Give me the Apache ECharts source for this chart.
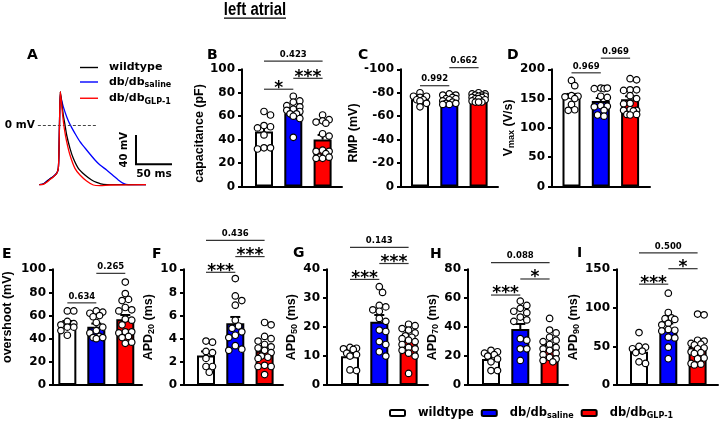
<!DOCTYPE html>
<html><head><meta charset="utf-8">
<script src="https://cdn.jsdelivr.net/npm/echarts@6/dist/echarts.min.js"></script>
<style>html,body{margin:0;padding:0;background:#fff}#c{width:719px;height:423px}</style>
</head><body><div id="c"></div>
<script>
// ---------- groups ----------
const groups = ['wildtype', 'db/db saline', 'db/db GLP-1'];
const groupColors = ['#ffffff', '#0000ff', '#ff0000'];

// ---------- Panel A: action potential traces [ms, mV] ----------
const wtTrace = [[0,-81.7],[5.6,-80.8],[10.2,-77.6],[14.8,-74.0],[19.4,-70.8],[24.1,-66.2],[26.4,-59.4],[27.3,-36.5],[28.2,9.1],[29.2,45.7],
  [31.0,32.0],[33.3,13.7],[35.7,0],[38.0,-13.7],[42.6,-32.0],[47.2,-45.7],[54.2,-59.4],[63.4,-68.5],[72.7,-75.3],[79.6,-78.5],[88.9,-81.3],[102.8,-81.7],[148.2,-81.7]];
const salTrace = [[0,-81.7],[5.6,-80.5],[10.2,-77.0],[14.8,-73.5],[19.4,-70.5],[24.1,-66.0],[26.4,-59.4],[27.3,-36.5],[28.2,9.1],[29.2,42.0],
  [31.0,34.2],[33.3,25.1],[38.0,11.4],[42.6,0.9],[49.5,-11.4],[56.5,-22.8],[65.7,-34.2],[77.3,-47.9],[84.3,-54.8],[93.5,-61.6],[102.8,-69.4],[109.7,-75.3],[116.7,-79.9],[123.6,-81.7],[148.2,-81.7]];
const glpTrace = [[0,-81.7],[5.6,-81.2],[10.2,-78.5],[14.8,-74.8],[19.4,-71.2],[24.1,-66.5],[26.4,-59.4],[27.3,-36.5],[28.2,9.1],[29.2,45.7],
  [30.6,32.0],[32.4,13.7],[34.7,-4.6],[38.0,-22.8],[42.6,-41.1],[49.5,-59.4],[56.5,-68.5],[65.7,-76.7],[75.0,-82.2],[84.3,-83.1],[98.2,-82.2],[148.2,-81.7]];
const zeroLineMs = [-2, 80];            // dashed 0 mV reference, ms range
const scaleBar = [134.3, -53.8, 50, 40]; // corner t, corner mV, 50 ms, 40 mV

// ---------- B: capacitance (pF) ----------
const capMean = [47, 62.5, 40];
const capSem = [4, 2.5, 4];
const capWt = [64, 61, 52, 51, 50, 44, 33, 33, 32];
const capSal = [77, 73, 72, 69, 68, 66, 65, 64, 62, 62, 60, 58, 42];
const capGlp = [61, 57, 56, 55, 54, 45, 43, 31, 30, 30, 28, 25, 24, 24, 25];
const capSig = [[0, 1, 83, '*'], [1, 2, 92.3, '***'], [0, 2, 107, '0.423']];

// ---------- C: RMP (mV) ----------
const rmpMean = [-74.5, -74, -76];
const rmpSem = [1.2, 1, 0.7];
const rmpWt = [-80, -77, -77, -76, -74, -74, -73, -71, -68];
const rmpSal = [-79, -78, -78, -76, -75, -75, -74, -73, -72, -71, -71, -70, -70];
const rmpGlp = [-80, -79, -79, -78, -78, -77, -77, -76, -76, -75, -75, -74, -73, -72, -72, -72];
const rmpSig = [[0, 1, -86, '0.992'], [1, 2, -101.4, '0.662']];

// ---------- D: Vmax (V/s) ----------
const vmaxMean = [153, 146, 149];
const vmaxSem = [5, 5, 5];
const vmaxWt = [181, 172, 155, 154, 153, 150, 140, 131, 130];
const vmaxSal = [168, 167, 167, 168, 154, 152, 138, 137, 136, 130, 122, 120];
const vmaxGlp = [184, 182, 165, 165, 164, 155, 150, 142, 141, 131, 130, 130, 129, 123, 123, 122];
const vmaxSig = [[0, 1, 194, '0.969'], [1, 2, 219, '0.969']];

// ---------- E: overshoot (mV) ----------
const osMean = [53, 50.4, 56.8];
const osSem = [2.3, 2.7, 3.7];
const osWt = [64, 64, 55, 53, 52, 50, 50, 47, 43];
const osSal = [64, 63, 62, 60, 59, 54, 50, 47, 45, 42, 41, 41, 40];
const osGlp = [89, 79, 74, 73, 67, 65, 64, 57, 56, 52, 46, 46, 45, 42, 41, 37, 36];
const osSig = [[0, 1, 71, '0.634'], [1, 2, 96.5, '0.265']];

// ---------- F: APD20 (ms) ----------
const apd20Mean = [2.55, 5.33, 2.95];
const apd20Sem = [0.35, 0.55, 0.35];
const apd20Wt = [3.8, 3.7, 2.9, 2.8, 2.3, 1.6, 1.6, 1.1];
const apd20Sal = [9.2, 7.7, 7.3, 6.9, 5.6, 5.1, 4.9, 4.6, 4.3, 4.1, 3.4, 3.1, 3.0];
const apd20Glp = [5.4, 5.2, 4.2, 4.0, 3.8, 3.5, 3.3, 3.2, 3.0, 2.8, 2.5, 2.4, 2.3, 1.7, 1.6, 1.6, 0.9];
const apd20Sig = [[0, 1, 9.74, '***'], [1, 2, 11.1, '***'], [0, 2, 12.5, '0.436']];

// ---------- G: APD50 (ms) ----------
const apd50Mean = [9.9, 21.9, 15.4];
const apd50Sem = [1.0, 2.3, 1.2];
const apd50Wt = [13, 12.7, 12.5, 12.3, 11, 10.5, 10, 5, 5.2];
const apd50Sal = [34, 32, 27.5, 27, 26, 25.5, 23, 22, 19, 18.5, 15, 14, 11.5, 10];
const apd50Glp = [21, 20.5, 19.5, 19, 18, 17, 16.5, 16, 15.5, 15, 14, 13, 12.5, 12, 11, 10, 4];
const apd50Sig = [[0, 1, 36.5, '***'], [1, 2, 42, '***'], [0, 2, 47.6, '0.143']];

// ---------- H: APD70 (ms) ----------
const apd70Mean = [18, 38.7, 25.5];
const apd70Sem = [1.7, 3.5, 2.0];
const apd70Wt = [24, 23, 22, 21, 20, 18, 16, 10, 10];
const apd70Sal = [58, 55, 53, 51, 50, 47, 45, 44, 32, 31, 25, 25, 17];
const apd70Glp = [46, 38, 36, 33, 31, 30, 28, 26, 25, 24, 22, 21, 19, 18, 17, 16];
const apd70Sig = [[0, 1, 62.2, '***'], [1, 2, 73.3, '*'], [0, 2, 84.6, '0.088']];

// ---------- I: APD90 (ms) ----------
const apd90Mean = [43, 73.7, 50];
const apd90Sem = [5, 6, 4];
const apd90Wt = [68, 50, 49, 47, 44, 42, 30, 28];
const apd90Sal = [119, 94, 87, 86, 85, 80, 78, 72, 71, 70, 62, 61, 49, 34];
const apd90Glp = [92, 91, 58, 57, 54, 53, 52, 48, 47, 43, 42, 41, 35, 34, 28, 27, 26];
const apd90Sig = [[0, 1, 130.7, '***'], [1, 2, 150.8, '*'], [0, 2, 171.3, '0.500']];

// ---------- layout ----------
const CAT_PX = 29.3;
const DOT = 6.5;
const TOP1 = 69.3, H1 = 117.2, TOP2 = 269.3, H2 = 115.7;
const panels = [
  {letter:'B', lx:207, ly:48, name:'{t|capacitance (pF)}', npad:[0, 11, 0, 0], left:242, top:TOP1, width:100, height:H1, off:22, min:0, max:100, interval:20, gap:24,
   mean:capMean, sem:capSem, pts:[capWt, capSal, capGlp], sig:capSig},
  {letter:'C', lx:358, ly:48, name:'{t|RMP (mV)}', npad:[0, 10, 0, 0], left:401, top:TOP1, width:97, height:H1, off:19, min:-100, max:0, interval:20, inverse:true, gap:35,
   mean:rmpMean, sem:rmpSem, pts:[rmpWt, rmpSal, rmpGlp], sig:rmpSig},
  {letter:'D', lx:507, ly:48, name:'{t|V}{s|max}{t| (V/s)}', npad:[0, 0, 0, 0], left:552, top:TOP1, width:98, height:H1, off:19.5, min:0, max:200, interval:50, gap:33,
   mean:vmaxMean, sem:vmaxSem, pts:[vmaxWt, vmaxSal, vmaxGlp], sig:vmaxSig},
  {letter:'E', lx:2, ly:247, name:'{t|overshoot (mV)}', npad:[0, 0, 0, 20], left:52, top:TOP2, width:90, height:H2, off:14.5, min:0, max:100, interval:20, gap:38,
   mean:osMean, sem:osSem, pts:[osWt, osSal, osGlp], sig:osSig},
  {letter:'F', lx:152, ly:247, name:'{t|APD}{s|20}{t| (ms)}', npad:[0, 0, 0, 0], left:184, top:TOP2, width:99, height:H2, off:22, min:0, max:10, interval:2, gap:18,
   mean:apd20Mean, sem:apd20Sem, pts:[apd20Wt, apd20Sal, apd20Glp], sig:apd20Sig},
  {letter:'G', lx:293, ly:246, name:'{t|APD}{s|50}{t| (ms)}', npad:[0, 0, 0, 0], left:327, top:TOP2, width:101, height:H2, off:23, min:0, max:40, interval:10, gap:22,
   mean:apd50Mean, sem:apd50Sem, pts:[apd50Wt, apd50Sal, apd50Glp], sig:apd50Sig},
  {letter:'H', lx:430, ly:247, name:'{t|APD}{s|70}{t| (ms)}', npad:[0, 0, 0, 0], left:468, top:TOP2, width:100, height:H2, off:23, min:0, max:80, interval:20, gap:22,
   mean:apd70Mean, sem:apd70Sem, pts:[apd70Wt, apd70Sal, apd70Glp], sig:apd70Sig},
  {letter:'I', lx:577, ly:246, name:'{t|APD}{s|90}{t| (ms)}', npad:[0, 0, 0, 0], left:617, top:TOP2, width:101, height:H2, off:22, min:0, max:150, interval:50, gap:27,
   mean:apd90Mean, sem:apd90Sem, pts:[apd90Wt, apd90Sal, apd90Glp], sig:apd90Sig}
];

// deterministic beeswarm offsets (pixels)
function swarmOffsets(vals, pxPerUnit, diam, maxOff) {
  const order = vals.map((v, i) => i).sort((a, b) => Math.abs(vals[b]) - Math.abs(vals[a]));
  const placed = [], out = new Array(vals.length);
  const step = diam * 0.5;
  const minD = diam * 0.9;
  const nCand = 2 * Math.floor(maxOff / step);
  for (const i of order) {
    const y = vals[i] * pxPerUnit;
    let best = 0, bestScore = -1;
    for (let k = 0; k <= nCand; k++) {
      const c = k === 0 ? 0 : ((k % 2) ? 1 : -1) * Math.ceil(k / 2) * step;
      let md = Infinity;
      for (const p of placed) md = Math.min(md, Math.hypot(p.x - c, p.y - y));
      if (md >= minD) { best = c; bestScore = Infinity; break; }
      if (md > bestScore + 0.01) { bestScore = md; best = c; }
    }
    placed.push({x: best, y: y}); out[i] = best;
  }
  return out;
}

const FONT_TICK = {fontFamily: 'DejaVu Sans', fontWeight: 'bold', fontSize: 12, color: '#000'};
const grids = [], xAxes = [], yAxes = [], series = [];
const titles = [];

// ---------- Panel A ----------
grids.push({left: 35.7, top: 88.5, width: 140.4, height: 102.2});
xAxes.push({type: 'value', gridIndex: 0, min: -5, max: 190, show: false});
yAxes.push({type: 'value', gridIndex: 0, min: -90, max: 50, show: false});
const traceDefs = [
  {name: 'AP db/db saline', data: salTrace, color: '#0000ff'},
  {name: 'AP wildtype', data: wtTrace, color: '#000000'},
  {name: 'AP db/db GLP-1', data: glpTrace, color: '#ff0000'}
];
traceDefs.forEach((t, i) => {
  const s = {type: 'line', name: t.name, xAxisIndex: 0, yAxisIndex: 0, data: t.data, symbol: 'none', smooth: 0.25,
    lineStyle: {color: t.color, width: 1.3}, itemStyle: {color: t.color}, z: 3 + i};
  if (i === 1) {
    s.markLine = {silent: true, symbol: 'none', animation: false,
      lineStyle: {type: [3, 2], color: '#444', width: 1},
      label: {show: true, position: 'start', formatter: '0 mV', fontFamily: 'DejaVu Sans', fontWeight: 'bold', fontSize: 10.5, color: '#000', distance: 3},
      data: [[{coord: [zeroLineMs[0], 0]}, {coord: [zeroLineMs[1], 0]}]]};
  }
  series.push(s);
});
series.push({type: 'custom', xAxisIndex: 0, yAxisIndex: 0, data: [scaleBar], silent: true, z: 5,
  renderItem: function (params, api) {
    const t = api.value(0), v = api.value(1), dt = api.value(2), dv = api.value(3);
    const c = api.coord([t, v]), top = api.coord([t, v + dv]), r = api.coord([t + dt, v]);
    return {type: 'group', children: [
      {type: 'polyline', shape: {points: [top, c, r]}, style: {stroke: '#000', lineWidth: 2, fill: null}},
      {type: 'text', x: c[0] - 7, y: (c[1] + top[1]) / 2, rotation: Math.PI / 2,
        style: {text: dv + ' mV', align: 'center', verticalAlign: 'bottom', font: 'bold 10px "DejaVu Sans"', fill: '#000'}},
      {type: 'text', style: {x: (c[0] + r[0]) / 2, y: c[1] + 4, text: dt + ' ms', align: 'center', verticalAlign: 'top', font: 'bold 10.5px "DejaVu Sans"', fill: '#000'}}
    ]};
  }});
titles.push({text: 'A', left: 27, top: 48, padding: 0, textStyle: {fontFamily: 'DejaVu Sans', fontWeight: 'bold', fontSize: 14, color: '#000'}});

// ---------- bar panels ----------
panels.forEach((p, k) => {
  const gi = k + 1;
  grids.push({left: p.left, top: p.top, width: p.width, height: p.height});
  const xmin = -p.off / CAT_PX, xmax = xmin + p.width / CAT_PX;
  xAxes.push({type: 'value', gridIndex: gi, min: xmin, max: xmax,
    axisLine: {show: true, onZero: false, lineStyle: {color: '#000', width: 2}},
    axisTick: {show: false}, axisLabel: {show: false}, splitLine: {show: false}});
  yAxes.push({type: 'value', gridIndex: gi, min: p.min, max: p.max, interval: p.interval, inverse: !!p.inverse,
    name: p.name, nameLocation: 'middle', nameGap: p.gap,
    nameTextStyle: {color: '#000', padding: p.npad, rich: {
      t: {fontFamily: 'Liberation Sans', fontWeight: 'bold', fontSize: 12.5, color: '#000', lineHeight: 15, verticalAlign: 'middle'},
      s: {fontFamily: 'Liberation Sans', fontWeight: 'bold', fontSize: 9, color: '#000', lineHeight: 8, verticalAlign: 'bottom'}}},
    axisLine: {show: true, onZero: false, lineStyle: {color: '#000', width: 2}},
    axisTick: {show: true, length: 4, lineStyle: {color: '#000', width: 2}},
    axisLabel: Object.assign({margin: 7}, FONT_TICK), splitLine: {show: false}});
  titles.push({text: p.letter, left: p.lx, top: p.ly, padding: 0, textStyle: {fontFamily: 'DejaVu Sans', fontWeight: 'bold', fontSize: 14, color: '#000'}});

  // bars
  groups.forEach((g, i) => {
    series.push({type: 'bar', name: g, xAxisIndex: gi, yAxisIndex: gi, data: [[i, p.mean[i]]],
      barWidth: 18, barGap: '-100%', z: 2,
      itemStyle: {color: groupColors[i], borderColor: '#000', borderWidth: 2}});
  });
  // error bars (mean + SEM, upward)
  series.push({type: 'custom', xAxisIndex: gi, yAxisIndex: gi, z: 3, silent: true,
    data: p.mean.map((m, i) => [i, m, p.sem[i]]),
    renderItem: function (params, api) {
      const x = api.value(0), m = api.value(1), s = api.value(2);
      const tv = m + (m < 0 ? -s : s);
      const a = api.coord([x, m]), b = api.coord([x, tv]);
      return {type: 'group', children: [
        {type: 'line', shape: {x1: a[0], y1: a[1], x2: b[0], y2: b[1]}, style: {stroke: '#000', lineWidth: 2}},
        {type: 'line', shape: {x1: b[0] - 5, y1: b[1], x2: b[0] + 5, y2: b[1]}, style: {stroke: '#000', lineWidth: 2}}
      ]};
    }});
  // dots
  const pxPerUnit = p.height / (p.max - p.min);
  const dots = [];
  p.pts.forEach((vals, i) => {
    const offs = swarmOffsets(vals, pxPerUnit, DOT, 8);
    vals.forEach((v, j) => dots.push([i + offs[j] / CAT_PX, v]));
  });
  series.push({type: 'scatter', xAxisIndex: gi, yAxisIndex: gi, data: dots, symbolSize: DOT, z: 4, silent: true,
    itemStyle: {color: '#ffffff', borderColor: '#000', borderWidth: 1.2, opacity: 1}});
  // significance brackets
  const sig = p.sig;
  series.push({type: 'custom', xAxisIndex: gi, yAxisIndex: gi, z: 5, silent: true, clip: false,
    data: sig.map(s => [s[0], s[1], s[2]]),
    renderItem: function (params, api) {
      const a = api.coord([api.value(0), api.value(2)]), b = api.coord([api.value(1), api.value(2)]);
      const lab = sig[params.dataIndex][3];
      const star = lab.indexOf('*') >= 0;
      return {type: 'group', children: [
        {type: 'line', shape: {x1: a[0], y1: a[1], x2: b[0], y2: a[1]}, style: {stroke: '#333', lineWidth: 1.2}},
        {type: 'text', style: {x: (a[0] + b[0]) / 2, y: star ? a[1] - 1 : a[1] - 2, text: lab, align: 'center',
          verticalAlign: star ? 'middle' : 'bottom',
          font: star ? 'bold 17px "DejaVu Sans"' : 'bold 8.5px "DejaVu Sans"', fill: '#000'}}
      ]};
    }});
});

function legendLabel(name) {
  const n = name.replace(/^AP /, '');
  if (n === 'wildtype') return '{m|wildtype}';
  const parts = n.split(' ');
  return '{m|' + parts[0] + '}{s|' + parts[1] + '}';
}

const option = {
  animation: false,
  backgroundColor: '#ffffff',
  title: titles,
  grid: grids,
  xAxis: xAxes,
  yAxis: yAxes,
  legend: [
    {data: ['AP wildtype', 'AP db/db saline', 'AP db/db GLP-1'], orient: 'vertical', left: 80, top: 62,
      icon: 'rect', itemWidth: 18, itemHeight: 1.4, itemGap: 3.5, padding: 0, selectedMode: false,
      formatter: legendLabel, textStyle: {padding: [0, 0, 0, 6], rich: {
        m: {fontFamily: 'DejaVu Sans', fontWeight: 'bold', fontSize: 11, color: '#000', lineHeight: 14.5, verticalAlign: 'middle'},
        s: {fontFamily: 'DejaVu Sans', fontWeight: 'bold', fontSize: 8, color: '#000', lineHeight: 8, verticalAlign: 'bottom'}}}},
    {data: groups, orient: 'horizontal', left: 389, top: 407, itemWidth: 15, itemHeight: 6, itemGap: 7, padding: 0, selectedMode: false,
      formatter: legendLabel, textStyle: {padding: [0, 0, 0, 8], rich: {
        m: {fontFamily: 'DejaVu Sans', fontWeight: 'bold', fontSize: 11.5, color: '#000', lineHeight: 14, verticalAlign: 'middle'},
        s: {fontFamily: 'DejaVu Sans', fontWeight: 'bold', fontSize: 8, color: '#000', lineHeight: 8, verticalAlign: 'bottom'}}}}
  ],
  graphic: [
    {type: 'text', x: 255, y: 1, scaleX: 0.83, style: {text: 'left atrial', align: 'center', verticalAlign: 'top', font: 'bold 18px "Liberation Sans"', fill: '#000'}},
    {type: 'line', shape: {x1: 224, y1: 18.2, x2: 286, y2: 18.2}, style: {stroke: '#000', lineWidth: 1.2}}
  ],
  series: series
};
const chart = echarts.init(document.getElementById('c'));
chart.setOption(option);
</script></body></html>
